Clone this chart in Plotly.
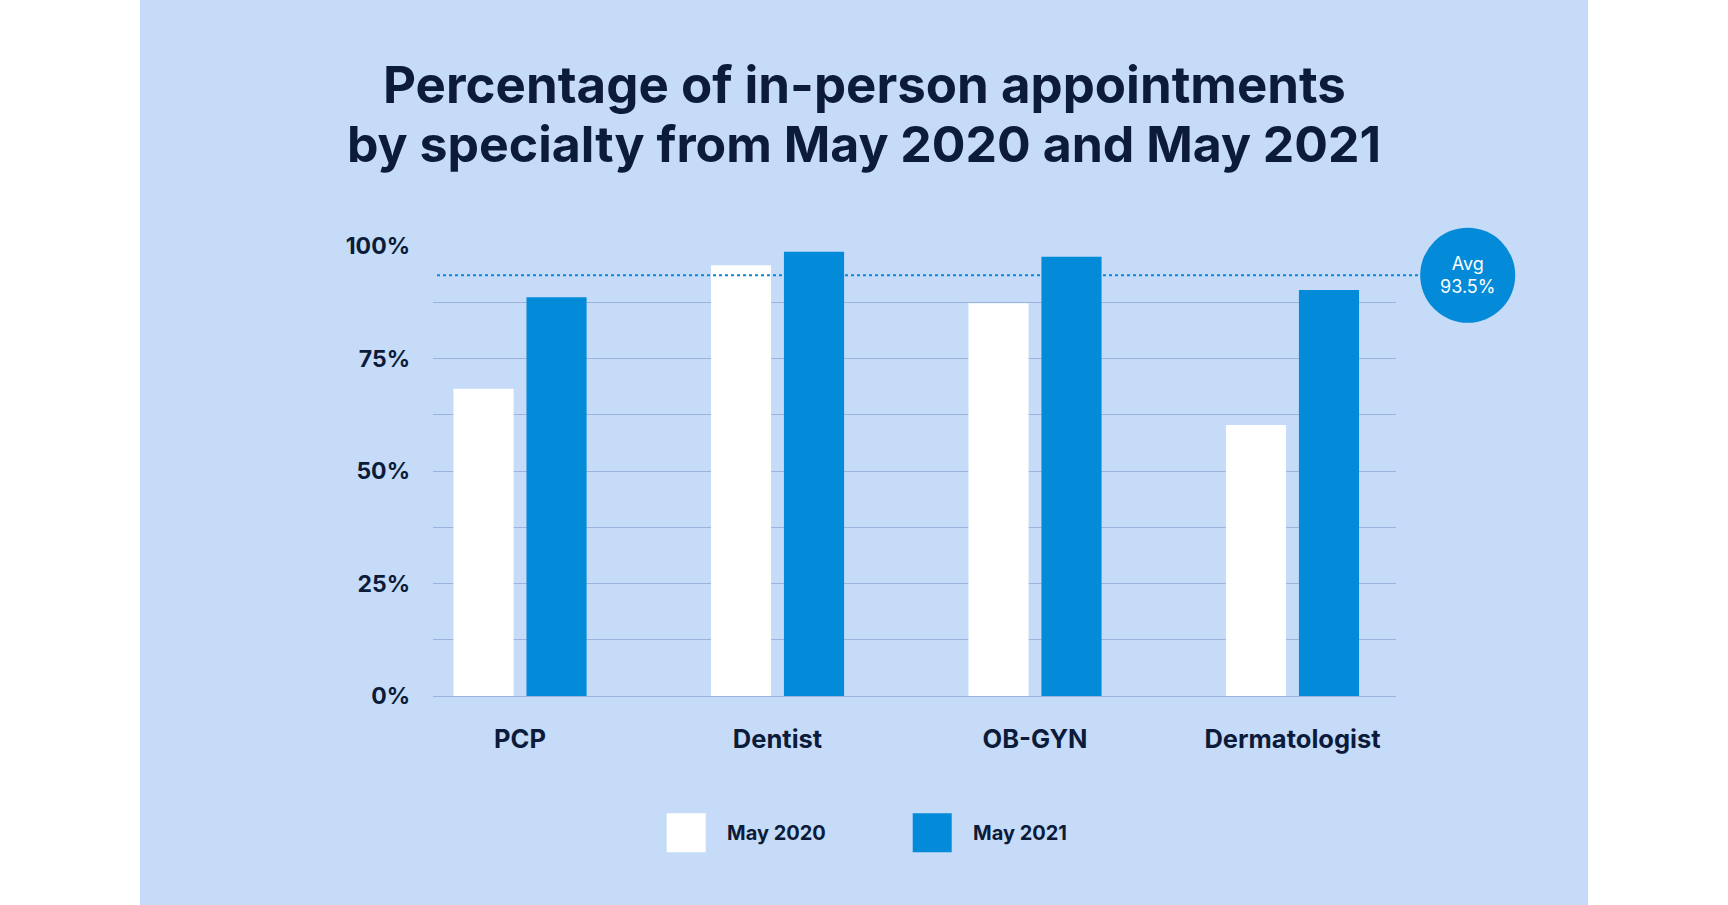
import plotly.graph_objects as go

# ---- data ----
CATEGORIES = ["PCP", "Dentist", "OB-GYN", "Dermatologist"]
SERIES_NAMES = ["May 2020", "May 2021"]
MAY_2020 = [68.3, 95.7, 87.3, 60.2]
MAY_2021 = [88.6, 98.7, 97.6, 90.2]
AVG = 93.5
Y_TICKS = [0, 12.5, 25, 37.5, 50, 62.5, 75, 87.5, 100]
Y_TICK_TEXT = ["0%", "", "25%", "", "50%", "", "75%", "", "100%"]
TITLE_LINES = ["Percentage of in-person appointments",
               "by specialty from May 2020 and May 2021"]

# ---- style ----
PANEL = "#c5dbf7"
BLUE = "#038ad9"
WHITE = "#ffffff"
NAVY = "#0c1b3a"
GRID = "#9bb3dd"
FONT = "Inter"

W, H = 1728, 905
L, R, T, B = 433, 1728 - 1396, 246, 905 - 696.5
PW, PH = W - L - R, H - T - B


def px(x):
    return (x - L) / PW


def py(y):
    return (H - B - y) / PH


fig = go.Figure()
fig.add_trace(go.Bar(x=CATEGORIES, y=MAY_2020, name=SERIES_NAMES[0],
                     marker=dict(color=WHITE, line=dict(width=0)),
                     width=0.2335, offset=-0.2585, showlegend=False,
                     hoverinfo="skip"))
fig.add_trace(go.Bar(x=CATEGORIES, y=MAY_2021, name=SERIES_NAMES[1],
                     marker=dict(color=BLUE, line=dict(width=0)),
                     width=0.2335, offset=0.025, showlegend=False,
                     hoverinfo="skip"))

shapes = []
# white side strips
shapes.append(dict(type="rect", xref="paper", yref="paper",
                   x0=px(-5), x1=px(140), y0=py(-5), y1=py(H + 5),
                   fillcolor=WHITE, line=dict(width=0), layer="above"))
shapes.append(dict(type="rect", xref="paper", yref="paper",
                   x0=px(1588), x1=px(W + 5), y0=py(-5), y1=py(H + 5),
                   fillcolor=WHITE, line=dict(width=0), layer="above"))
# average dotted line
shapes.append(dict(type="line", xref="paper", yref="y",
                   x0=px(437), x1=px(1420), y0=AVG, y1=AVG,
                   line=dict(color=BLUE, width=2, dash="dot"), layer="above"))
# average circle (paper-referenced so it is not clipped by the plot area)
cx = px(1467.7)
cy = AVG / 100.0
shapes.append(dict(type="circle", xref="paper", yref="paper",
                   xsizemode="pixel", ysizemode="pixel",
                   xanchor=cx, yanchor=cy,
                   x0=-47.5, x1=47.5, y0=-47.5, y1=47.5,
                   fillcolor=BLUE, line=dict(width=0), layer="above"))
# legend swatches
legend_swatch = [(666.7, WHITE), (912.7, BLUE)]
legend_text_x = [724.5, 970.5]
for (sx, col) in legend_swatch:
    shapes.append(dict(type="rect", xref="paper", yref="paper",
                       x0=px(sx), x1=px(sx + 39), y0=py(853), y1=py(814),
                       fillcolor=col, line=dict(width=0), layer="above"))

annotations = []
annotations.append(dict(xref="paper", yref="paper", x=px(864), y=py(84),
                        text=TITLE_LINES[0], showarrow=False,
                        xanchor="center", yanchor="middle",
                        font=dict(family=FONT, size=51, color=NAVY, weight=700)))
annotations.append(dict(xref="paper", yref="paper", x=px(864), y=py(144),
                        text=TITLE_LINES[1], showarrow=False,
                        xanchor="center", yanchor="middle",
                        font=dict(family=FONT, size=50, color=NAVY, weight=700)))
annotations.append(dict(xref="paper", yref="paper", x=cx, y=cy,
                        text=f"Avg<br>{AVG}%", showarrow=False,
                        xanchor="center", yanchor="middle",
                        font=dict(family=FONT, size=18, color=WHITE)))
for name, tx in zip(SERIES_NAMES, legend_text_x):
    annotations.append(dict(xref="paper", yref="paper", x=px(tx), y=py(834),
                            text=name, showarrow=False,
                            xanchor="left", yanchor="middle",
                            font=dict(family=FONT, size=20, color=NAVY, weight=700)))

fig.update_layout(
    width=W, height=H,
    margin=dict(l=L, r=R, t=T, b=B, pad=0),
    paper_bgcolor=PANEL, plot_bgcolor=PANEL,
    barmode="group",
    shapes=shapes, annotations=annotations,
    xaxis=dict(type="category", range=[-0.338, 3.402],
               showgrid=False, zeroline=False, showline=False, ticks="",
               tickfont=dict(family=FONT, size=25.5, color=NAVY, weight=700),
               ticklabelstandoff=25),
    yaxis=dict(range=[0, 100], tickvals=Y_TICKS, ticktext=Y_TICK_TEXT,
               showgrid=True, gridcolor=GRID, gridwidth=1,
               zeroline=True, zerolinecolor=GRID, zerolinewidth=1,
               showline=False, ticks="",
               tickfont=dict(family=FONT, size=23, color=NAVY, weight=700),
               ticklabelstandoff=22),
    showlegend=False,
)

fig.write_html("out.html")
